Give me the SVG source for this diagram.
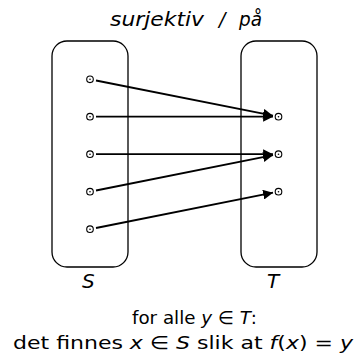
<svg xmlns="http://www.w3.org/2000/svg" width="358" height="363" viewBox="0 0 358 363">
<defs>
<style>
.box{fill:none;stroke:#000;stroke-width:1.3}
.dot{fill:#fff;stroke:#000;stroke-width:1.1}
.ctr{fill:#000}
.edge{stroke:#000;stroke-width:1.8;fill:none}
.t{font-family:"DejaVu Sans","Liberation Sans",sans-serif;font-size:18px;fill:#000}
.i{font-style:italic}
</style>
<marker id="ah" viewBox="0 0 10 10" refX="10" refY="5" markerWidth="5.5" markerHeight="5.5" orient="auto" markerUnits="strokeWidth">
<path d="M0,0 L10,5 L0,10 z" fill="#000"/>
</marker>
</defs>
<rect width="358" height="363" fill="#fff"/>
<g id="title">
<text class="t i" x="110" y="25.5" style="font-size:19px" textLength="94" lengthAdjust="spacingAndGlyphs">surjektiv</text>
<text class="t i" x="219" y="25.5" style="font-size:19px">/</text>
<text class="t i" x="239" y="25.5" style="font-size:19px" textLength="23" lengthAdjust="spacingAndGlyphs">på</text>
</g>
<g id="S">
<rect class="box" x="52" y="41" width="76" height="226" rx="15" ry="15"/>
<text class="t i" x="82" y="288" style="font-size:20px">S</text>
</g>
<g id="T">
<rect class="box" x="241" y="41" width="76" height="226" rx="15" ry="15"/>
<text class="t i" x="267" y="288" style="font-size:20px">T</text>
</g>
<g id="s1"><circle class="dot" cx="90" cy="79.3" r="3.3"/><circle class="ctr" cx="90" cy="79.3" r="0.8"/></g>
<g id="s2"><circle class="dot" cx="90" cy="116.7" r="3.3"/><circle class="ctr" cx="90" cy="116.7" r="0.8"/></g>
<g id="s3"><circle class="dot" cx="90" cy="154.2" r="3.3"/><circle class="ctr" cx="90" cy="154.2" r="0.8"/></g>
<g id="s4"><circle class="dot" cx="90" cy="191.7" r="3.3"/><circle class="ctr" cx="90" cy="191.7" r="0.8"/></g>
<g id="s5"><circle class="dot" cx="90" cy="229.2" r="3.3"/><circle class="ctr" cx="90" cy="229.2" r="0.8"/></g>
<g id="t1"><circle class="dot" cx="278.5" cy="116.7" r="3.3"/><circle class="ctr" cx="278.5" cy="116.7" r="0.8"/></g>
<g id="t2"><circle class="dot" cx="278.5" cy="154.2" r="3.3"/><circle class="ctr" cx="278.5" cy="154.2" r="0.8"/></g>
<g id="t3"><circle class="dot" cx="278.5" cy="191.7" r="3.3"/><circle class="ctr" cx="278.5" cy="191.7" r="0.8"/></g>
<g id="connectors">
<line class="edge" x1="96" y1="80.5" x2="273" y2="115.7" marker-end="url(#ah)"/>
<line class="edge" x1="96" y1="116.7" x2="273" y2="116.7" marker-end="url(#ah)"/>
<line class="edge" x1="96" y1="154.2" x2="273" y2="154.2" marker-end="url(#ah)"/>
<line class="edge" x1="96" y1="190.5" x2="273" y2="155.2" marker-end="url(#ah)"/>
<line class="edge" x1="96" y1="228" x2="273" y2="192.7" marker-end="url(#ah)"/>
</g>
<text class="t" x="132" y="324" textLength="125" lengthAdjust="spacingAndGlyphs">for alle <tspan class="i">y</tspan> ∈ <tspan class="i">T</tspan>:</text>
<text class="t" x="13" y="349" textLength="340" lengthAdjust="spacingAndGlyphs">det finnes <tspan class="i">x</tspan> ∈ <tspan class="i">S</tspan> slik at <tspan class="i">f</tspan>(<tspan class="i">x</tspan>) = <tspan class="i">y</tspan></text>
</svg>
